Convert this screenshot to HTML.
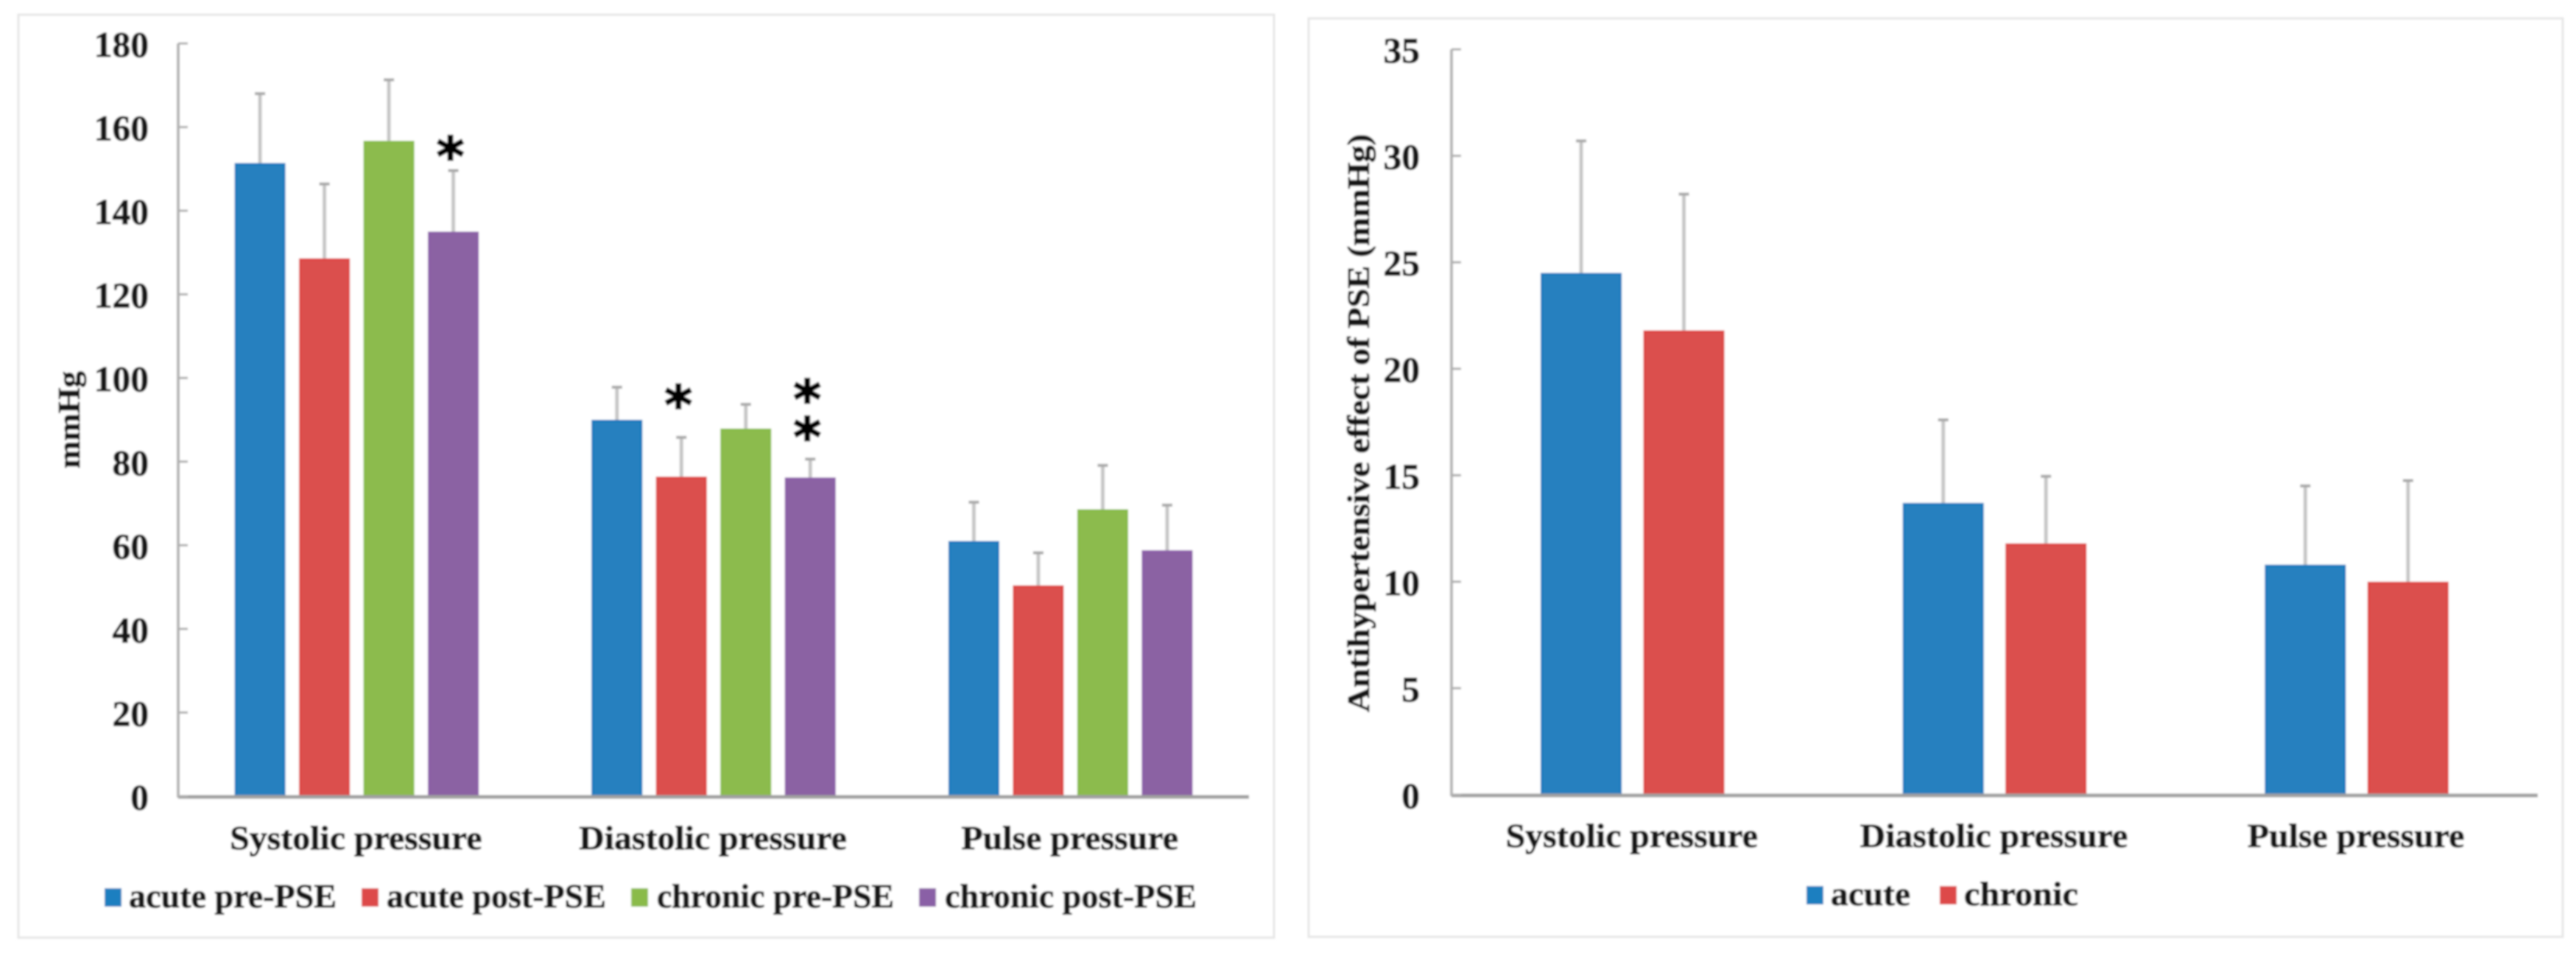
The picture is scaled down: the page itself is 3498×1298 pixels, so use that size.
<!DOCTYPE html>
<html lang="en">
<head>
<meta charset="utf-8">
<title>Blood pressure and antihypertensive effect of PSE</title>
<style>
html,body{margin:0;padding:0;background:#fff;width:3498px;height:1298px;overflow:hidden}
svg{display:block}
text{font-family:"Liberation Serif",serif;font-weight:700;fill:#151515;stroke:#151515;stroke-width:0.9px}
</style>
</head>
<body>
<svg id="figure" xmlns="http://www.w3.org/2000/svg" width="3498" height="1298" viewBox="0 0 3498 1298">
  <defs><filter id="soft" x="-2%" y="-2%" width="104%" height="104%"><feGaussianBlur stdDeviation="1.2"/></filter></defs>
  <rect width="3498" height="1298" fill="#fff"/>
  <g id="scene" filter="url(#soft)">
    <rect x="25" y="20" width="1705" height="1253" fill="#fff" stroke="#e6e6e6" stroke-width="3"/>
    <rect x="1777" y="25" width="1703" height="1247" fill="#fff" stroke="#e6e6e6" stroke-width="3"/>
    <g id="left-chart"></g>
    <g id="right-chart"></g>

    <text transform="translate(108,636) rotate(-90)" font-size="42" textLength="132" lengthAdjust="spacingAndGlyphs">mmHg</text>
    <text transform="translate(1859,967) rotate(-90)" font-size="42" textLength="785" lengthAdjust="spacingAndGlyphs">Antihypertensive effect of PSE (mmHg)</text>

    <g>
      <rect x="142" y="1206" width="23" height="25" fill="#1f7fc0"/>
      <text x="175" y="1232" font-size="45" textLength="282" lengthAdjust="spacingAndGlyphs">acute pre-PSE</text>
      <rect x="491" y="1206" width="23" height="25" fill="#dd4a4a"/>
      <text x="525" y="1232" font-size="45" textLength="298" lengthAdjust="spacingAndGlyphs">acute post-PSE</text>
      <rect x="857" y="1206" width="23" height="25" fill="#8abb4a"/>
      <text x="892" y="1232" font-size="45" textLength="322" lengthAdjust="spacingAndGlyphs">chronic pre-PSE</text>
      <rect x="1248" y="1206" width="23" height="25" fill="#8a60a6"/>
      <text x="1283" y="1232" font-size="45" textLength="342" lengthAdjust="spacingAndGlyphs">chronic post-PSE</text>
    </g>
    <g>
      <rect x="2453" y="1203" width="23" height="25" fill="#1f7fc0"/>
      <text x="2486" y="1229" font-size="45" textLength="108" lengthAdjust="spacingAndGlyphs">acute</text>
      <rect x="2634" y="1203" width="23" height="25" fill="#dd4a4a"/>
      <text x="2667" y="1229" font-size="45" textLength="155" lengthAdjust="spacingAndGlyphs">chronic</text>
    </g>
  </g>
</svg>
<script>
// ---- Shared categories ----
var categories = ["Systolic pressure", "Diastolic pressure", "Pulse pressure"];

// ---- Left chart data (mmHg) ----
var leftTicks = [0, 20, 40, 60, 80, 100, 120, 140, 160, 180];
var leftSeriesNames = ["acute-pre-pse", "acute-post-pse", "chronic-pre-pse", "chronic-post-pse"];
var acutePre = [151.4, 90.0, 61.0];
var acutePost = [128.6, 76.4, 50.4];
var chronicPre = [156.7, 87.9, 68.6];
var chronicPost = [135.0, 76.2, 58.8];
var acutePreErrTop = [168.0, 97.8, 70.3];
var acutePostErrTop = [146.4, 85.8, 58.2];
var chronicPreErrTop = [171.3, 93.7, 79.1];
var chronicPostErrTop = [149.6, 80.6, 69.6];

// ---- Right chart data (mmHg) ----
var rightTicks = [0, 5, 10, 15, 20, 25, 30, 35];
var rightSeriesNames = ["acute", "chronic"];
var acuteEffect = [24.5, 13.7, 10.8];
var chronicEffect = [21.8, 11.8, 10.0];
var acuteEffectErrTop = [30.7, 17.6, 14.5];
var chronicEffectErrTop = [28.2, 14.95, 14.75];

var NS = "http://www.w3.org/2000/svg";
var COLORS = [["#2580bf", "#0b78be"], ["#db4f4d", "#de4240"], ["#8cbb4e", "#86bb44"], ["#8b62a3", "#8a5ca8"]];
var TWO_COLORS = [COLORS[0], COLORS[1]];

function mk(parent, tag) {
  var el = document.createElementNS(NS, tag);
  parent.appendChild(el);
  return el;
}
function set(el, k, v) { el.setAttribute(k, v); }
function lineAt(el, x1, y1, x2, y2, color, w) {
  set(el, "x1", x1); set(el, "y1", y1); set(el, "x2", x2); set(el, "y2", y2);
  set(el, "stroke", color); set(el, "stroke-width", w);
}

function drawChart(root, cfg) {
  var y = function (v) { return cfg.y0 - (v / cfg.yMax) * (cfg.y0 - cfg.yTop); };
  var band = (cfg.xEnd - cfg.xAxis) / categories.length;
  var x = function (cat, s) {
    var start = cfg.xAxis + band * (cat + 0.5) - (cfg.pitch * (cfg.values.length - 1) + cfg.barW) / 2;
    return start + s * cfg.pitch;
  };

  cfg.values.forEach(function (series, s) {
    series.forEach(function (v, c) {
      var cx = x(c, s) + cfg.barW / 2;
      var stem = mk(root, "line");
      
      
      lineAt(stem, cx, y(cfg.errTop[s][c]), cx, y(v), "#c6c6c6", 5);
      var cap = mk(root, "line");
      
      
      lineAt(cap, cx - 7, y(cfg.errTop[s][c]), cx + 7, y(cfg.errTop[s][c]), "#a8a8a8", 4);

      var bar = mk(root, "rect");
      
      
      set(bar, "x", x(c, s) + 1.5);
      set(bar, "y", y(v) + 1.5);
      set(bar, "width", cfg.barW - 3);
      set(bar, "height", cfg.y0 - y(v) - 1.5);
      set(bar, "fill", cfg.colors[s][0]);
      set(bar, "stroke", cfg.colors[s][1]);
      set(bar, "stroke-width", 3);
    });
  });

  var yLine = mk(root, "line");
  
  
  lineAt(yLine, cfg.xAxis, cfg.yTop, cfg.xAxis, cfg.y0 + 2, "#b4b4b4", 4);

  var xLine = mk(root, "line");
  
  
  lineAt(xLine, cfg.xAxis, cfg.y0 + 1, cfg.xEnd, cfg.y0 + 1, "#a0a0a0", 5);

  cfg.ticks.forEach(function (t) {
    var mark = mk(root, "line");
    
    
    lineAt(mark, cfg.xAxis, y(t), cfg.xAxis + 13, y(t), "#adadad", 3);

    var label = mk(root, "text");
    
    
    set(label, "x", cfg.tickRight);
    set(label, "y", y(t) + 18);
    set(label, "text-anchor", "end");
    set(label, "font-size", 49);
    label.textContent = String(t);
    set(label, "textLength", (label.getComputedTextLength() * 1.01).toFixed(1));
    set(label, "lengthAdjust", "spacingAndGlyphs");
  });

  categories.forEach(function (name, c) {
    var label = mk(root, "text");
    
    
    set(label, "x", cfg.xAxis + band * (c + 0.5) + cfg.labelShift);
    set(label, "y", cfg.labelY);
    set(label, "text-anchor", "middle");
    set(label, "font-size", 46);
    label.textContent = name;
    set(label, "textLength", (label.getComputedTextLength() * 1.04).toFixed(1));
    set(label, "lengthAdjust", "spacingAndGlyphs");
  });

  return { x: x, y: y };
}

var leftScale = drawChart(document.getElementById("left-chart"), {
  xAxis: 242, xEnd: 1696, yTop: 59, y0: 1081, yMax: 180,
  pitch: 87.5, barW: 69, tickRight: 202, labelY: 1153, labelShift: -1,
  ticks: leftTicks, colors: COLORS,
  values: [acutePre, acutePost, chronicPre, chronicPost],
  errTop: [acutePreErrTop, acutePostErrTop, chronicPreErrTop, chronicPostErrTop]
});
var rightScale = drawChart(document.getElementById("right-chart"), {
  xAxis: 1971, xEnd: 3446, yTop: 67, y0: 1079, yMax: 35,
  pitch: 139.5, barW: 110, tickRight: 1928, labelY: 1150, labelShift: -1,
  ticks: rightTicks, colors: TWO_COLORS,
  values: [acuteEffect, chronicEffect],
  errTop: [acuteEffectErrTop, chronicEffectErrTop]
});

// Significance asterisks, placed relative to the error-bar top of the marked bar.
function star(series, cat, errTop, above) {
  var el = mk(document.getElementById("left-chart"), "text");
  
  
  set(el, "x", leftScale.x(cat, series) + 34.5 - 4);
  set(el, "y", leftScale.y(errTop) - above + 37);
  set(el, "text-anchor", "middle");
  set(el, "font-size", 72);
  set(el, "style", 'font-family:"DejaVu Sans",sans-serif;font-weight:700;fill:#000;stroke:#000;stroke-width:2px');
  el.textContent = "*";
}
star(3, 0, chronicPostErrTop[0], 31);
star(1, 1, acutePostErrTop[1], 56);
star(3, 1, chronicPostErrTop[1], 42);
star(3, 1, chronicPostErrTop[1], 93);
</script>
</body>
</html>
